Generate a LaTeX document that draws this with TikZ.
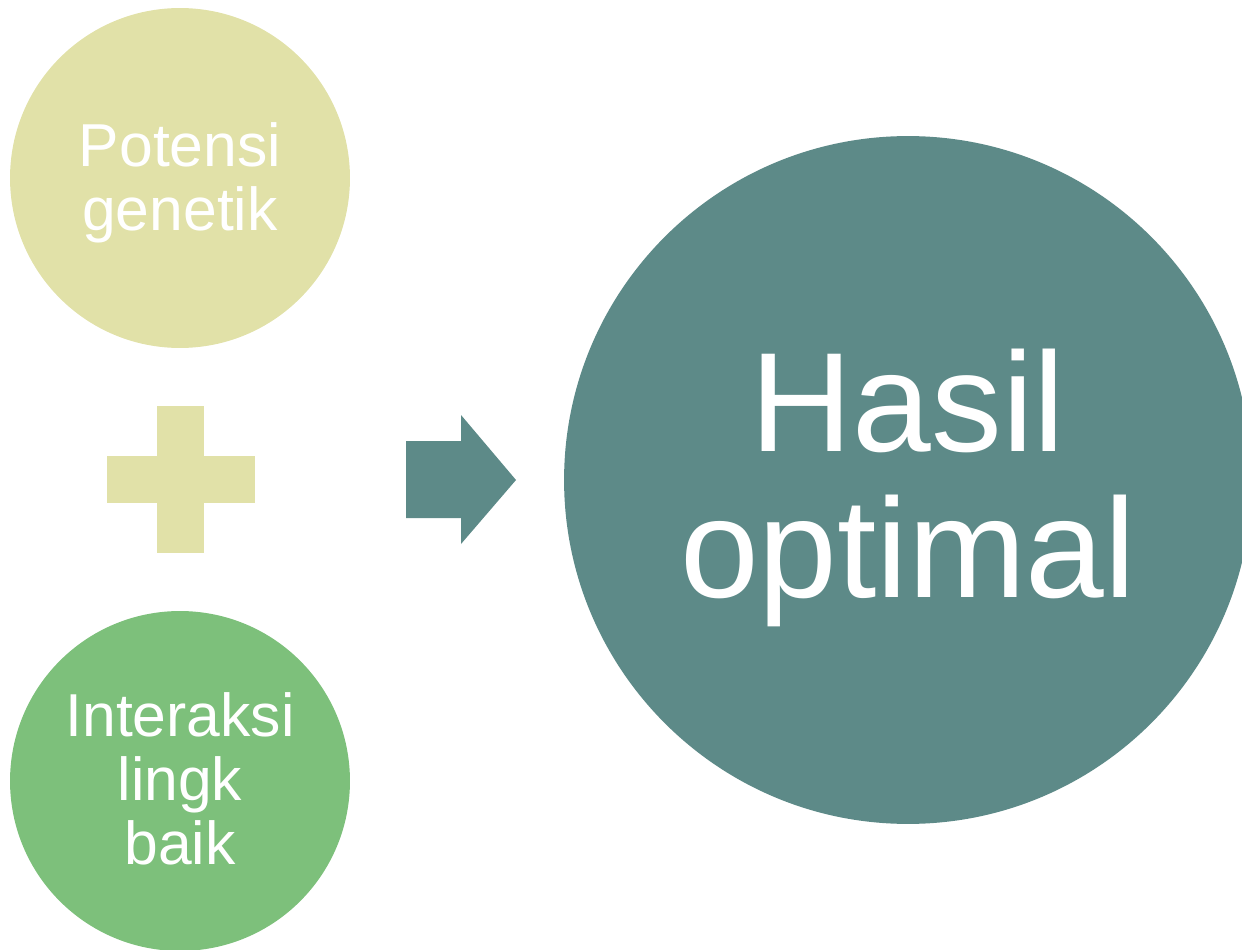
\documentclass[tikz,border=0pt]{standalone}
\usepackage{fontspec}
\setmainfont{Liberation Sans}
\definecolor{khaki}{HTML}{E1E1A8}
\definecolor{hijau}{HTML}{7DC07B}
\definecolor{teal}{HTML}{5D8A88}
\begin{document}
\begin{tikzpicture}[x=0.02cm, y=-0.02cm,
    bulat/.style={circle, inner sep=0pt},
    teks/.style={text=white, align=center, inner sep=0pt},
    kecil/.style={teks, font=\fontsize{34.5}{36.5}\selectfont},
    besar/.style={teks, font=\fontsize{80.5}{83}\selectfont}]
    \useasboundingbox (0,0) rectangle (1242,950);
    \clip (0,0) rectangle (1242,950);

    % Lingkaran kiri
    \node[bulat, minimum size=6.8cm, fill=khaki] (potensi) at (180,178) {};
    \node[kecil] (potensiteks) at (180,183) {Potensi\\genetik};
    \node[bulat, minimum size=6.8cm, fill=hijau] (interaksi) at (180,781) {};
    \node[kecil] (interaksiteks) at (180,779) {Interaksi\\lingk\\baik};

    % Tanda tambah
    \fill[khaki] (157,406) rectangle (204,553);
    \fill[khaki] (107,456) rectangle (255,503);

    % Panah
    \fill[teal] (406,441) -- (461,441) -- (461,415) -- (516,480)
        -- (461,544) -- (461,518) -- (406,518) -- cycle;

    % Lingkaran hasil
    \node[bulat, minimum size=13.76cm, fill=teal] (hasil) at (908,480) {};
    \node[besar] (hasilteks) at (908,488) {Hasil\\optimal};
\end{tikzpicture}
\end{document}
